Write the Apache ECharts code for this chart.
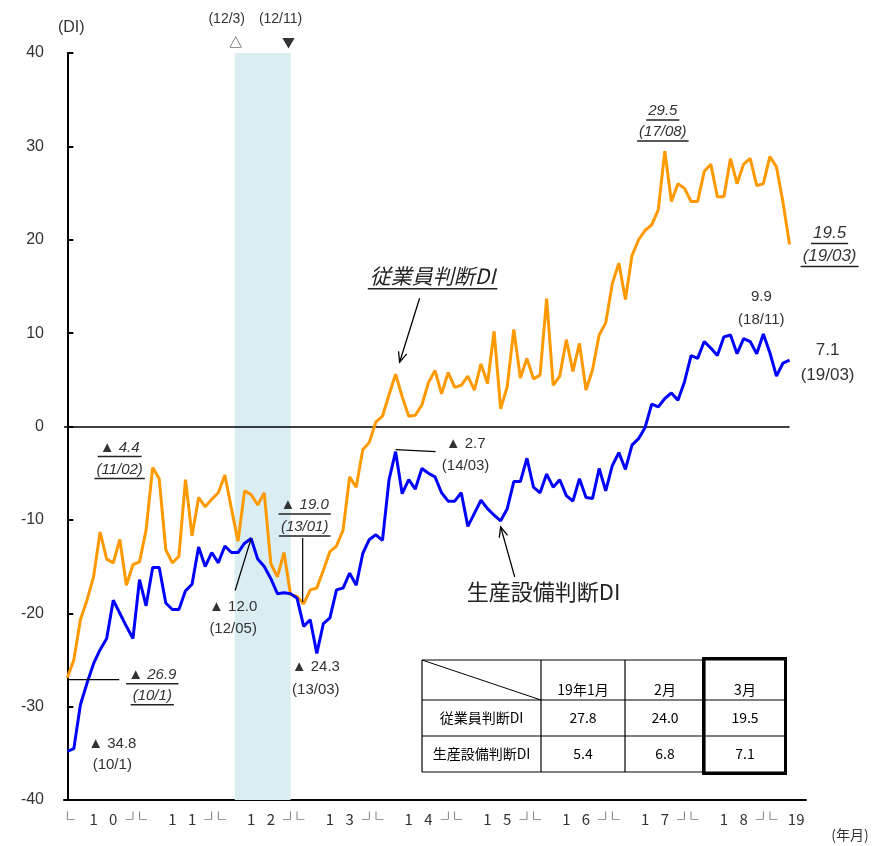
<!DOCTYPE html>
<html>
<head>
<meta charset="utf-8">
<script src="https://cdn.jsdelivr.net/npm/echarts@6/dist/echarts.min.js"></script>
<style>
html, body { margin: 0; padding: 0; background: #fff; }
#main { width: 878px; height: 846px; }
</style>
</head>
<body>
<div id="main"></div>
<script>
// 月（2010/01〜2019/05、データは2019/03まで）
const months = [];
for (let k = 0; k < 113; k++) {
    const y = 2010 + Math.floor(k / 12), m = k % 12 + 1;
    months.push(y + '/' + String(m).padStart(2, '0'));
}
const yearTicks = ['10', '11', '12', '13', '14', '15', '16', '17', '18', '19'];

// 従業員判断DI
const employ = [
    -26.9, -25.0, -20.7, -18.6, -16.1, -11.3, -14.2, -14.6, -12.1, -17.0, -14.8, -14.5,
    -11.1, -4.4, -5.6, -13.2, -14.6, -13.9, -5.7, -11.7, -7.6, -8.6, -7.8, -7.1,
    -5.2, -8.8, -12.3, -6.9, -7.3, -8.4, -7.1, -14.7, -16.1, -13.5, -18.0, -18.2,
    -19.0, -17.5, -17.3, -15.4, -13.4, -12.8, -11.1, -5.4, -6.5, -2.5, -1.7, 0.5,
    1.1, 3.4, 5.6, 3.2, 1.1, 1.2, 2.3, 4.7, 6.0, 3.5, 5.8, 4.2,
    4.4, 5.4, 3.9, 6.7, 4.6, 10.2, 1.9, 4.3, 10.4, 5.2, 7.3, 5.1,
    5.5, 13.7, 4.4, 5.4, 9.3, 5.9, 8.9, 3.9, 6.1, 9.8, 11.1, 15.3,
    17.5, 13.6, 18.3, 20.0, 21.0, 21.6, 23.2, 29.5, 24.1, 26.0, 25.5, 24.1,
    24.1, 27.3, 28.1, 24.6, 24.6, 28.7, 26.0, 28.1, 28.7, 25.8, 26.0, 28.9,
    27.8, 24.0, 19.5
];
// 生産設備判断DI
const equip = [
    -34.8, -34.5, -29.8, -27.5, -25.4, -23.9, -22.7, -18.6, -20.0, -21.4, -22.7, -16.4,
    -19.2, -15.1, -15.1, -18.9, -19.6, -19.6, -17.6, -16.9, -12.9, -15.0, -13.5, -14.6,
    -12.8, -13.5, -13.5, -12.5, -12.0, -14.2, -15.0, -16.3, -17.9, -17.8, -17.9, -18.4,
    -21.4, -20.7, -24.3, -21.1, -20.5, -17.5, -17.3, -15.7, -17.0, -13.6, -12.1, -11.6,
    -12.2, -5.7, -2.7, -7.2, -5.7, -6.7, -4.5, -5.0, -5.4, -7.1, -8.0, -8.0,
    -7.1, -10.7, -9.3, -7.9, -8.8, -9.5, -10.1, -8.8, -5.9, -5.9, -3.4, -6.5,
    -7.1, -5.1, -6.5, -5.7, -7.4, -8.0, -5.6, -7.6, -7.7, -4.5, -6.9, -4.2,
    -2.8, -4.6, -2.0, -1.3, -0.1, 2.4, 2.1, 3.0, 3.6, 2.8, 4.8, 7.6,
    7.3, 9.1, 8.4, 7.6, 9.6, 9.8, 7.8, 9.4, 9.1, 7.8, 9.9, 7.9,
    5.4, 6.8, 7.1
];
const tableCols = ['19年1月', '2月', '3月'];
const tableRows = ['従業員判断DI', '生産設備判断DI'];

// 横軸の文字（月ごと）
const axisChars = months.map(() => '');
axisChars[0] = '└';
yearTicks.forEach(function (y, k) {
    const j = k * 12;
    if (k < yearTicks.length - 1) {
        axisChars[j + 4] = y[0];
        axisChars[j + 7] = y[1];
        axisChars[j + 10] = '┘';
        axisChars[j + 11] = '└';
    } else {
        axisChars[j + 3] = y;
    }
});

const FONT = "'Liberation Sans','Noto Sans CJK JP',sans-serif";
const JP = "'Noto Sans CJK JP',sans-serif";
const TXT = '#333';

let myChart = echarts.init(document.getElementById('main'));
myChart.setOption({
    animation: false,
    grid: {left: 64, top: 53, width: 742, height: 747, containLabel: false, outerBoundsMode: 'none'},
    xAxis: [
        {type: 'value', min: -0.5, max: 112.5, show: false},
        {
            type: 'category', data: months, boundaryGap: true, position: 'bottom',
            axisLine: {lineStyle: {color: '#000', width: 2}},
            axisTick: {inside: true, length: 5, interval: 0, lineStyle: {color: '#000', width: 1}},
            axisLabel: {
                interval: 0, margin: 12, color: TXT, fontSize: 15, fontFamily: JP,
                formatter: function (v, i) { return axisChars[i]; }
            },
            splitLine: {show: false}
        }
    ],
    yAxis: {
        type: 'value', min: -40, max: 40, interval: 10,
        name: '(DI)', nameGap: 17,
        nameTextStyle: {color: TXT, fontSize: 16, fontFamily: FONT, padding: [0, 0, 0, 8]},
        axisLine: {show: true, lineStyle: {color: '#000', width: 2}},
        axisTick: {show: true, inside: true, length: 6, lineStyle: {color: '#000', width: 2}},
        axisLabel: {margin: 20, color: TXT, fontSize: 16, fontFamily: FONT},
        splitLine: {show: false}
    },
    series: [
        {
            name: '従業員判断DI', type: 'line', xAxisIndex: 0, z: 3,
            data: employ.map(function (v, i) { return [i, v]; }),
            symbol: 'none', lineStyle: {color: '#ff9900', width: 3},
            markArea: {
                silent: true, itemStyle: {color: '#daedf3'},
                data: [[{xAxis: 25.5}, {xAxis: 34}]]
            },
            markLine: {
                silent: true, symbol: 'none', z: 1, label: {show: false},
                lineStyle: {color: '#000', width: 1.5, type: 'solid'},
                data: [[{coord: [-0.5, 0]}, {coord: [110, 0]}]]
            }
        },
        {
            name: '生産設備判断DI', type: 'line', xAxisIndex: 0, z: 4,
            data: equip.map(function (v, i) { return [i, v]; }),
            symbol: 'none', lineStyle: {color: '#0000ff', width: 3}
        }
    ]
});

// 注記
const mctx = document.createElement('canvas').getContext('2d');
function measure(text, size, family, style) {
    mctx.font = (style || 'normal') + ' ' + size + 'px ' + family;
    return mctx.measureText(text).width;
}
function P(i, v) {
    return myChart.convertToPixel({xAxisIndex: 0, yAxisIndex: 0}, [i, v]);
}
function fmt(v) {
    return v < 0 ? '▲ ' + Math.abs(v).toFixed(1) : v.toFixed(1);
}
let els = [];
function label(x, y, text, o) {
    o = o || {};
    let size = o.size || 15, fam = o.family || FONT, st = o.italic ? 'italic' : 'normal';
    els.push({
        type: 'text', x: x, y: y, z: 10,
        style: {text: text, fontSize: size, fontFamily: fam, fontStyle: st, fill: o.color || TXT,
            align: o.align || 'center', verticalAlign: 'middle'}
    });
    if (o.underline) {
        let w = measure(text, size, fam, st);
        let uy = y + size * 0.6;
        els.push({type: 'line', z: 10, shape: {x1: x - w / 2 - 2, y1: uy, x2: x + w / 2 + 2, y2: uy},
            style: {stroke: '#222', lineWidth: 1.5}});
    }
}
function seg(x1, y1, x2, y2, lw) {
    els.push({type: 'line', z: 10, shape: {x1: x1, y1: y1, x2: x2, y2: y2}, style: {stroke: '#000', lineWidth: lw || 1.2}});
}
function arrow(x1, y1, x2, y2) {
    seg(x1, y1, x2, y2, 1.3);
    let a = Math.atan2(y2 - y1, x2 - x1), L = 11, s = 0.4;
    els.push({type: 'polyline', z: 10, shape: {points: [
        [x2 - L * Math.cos(a - s), y2 - L * Math.sin(a - s)], [x2, y2],
        [x2 - L * Math.cos(a + s), y2 - L * Math.sin(a + s)]]},
        style: {stroke: '#000', lineWidth: 1.3, fill: null}});
}
function note(i, v, dx, dy, gap, date, o) {
    let p = P(i, v);
    label(p[0] + dx, p[1] + dy, fmt(v), o);
    label(p[0] + dx, p[1] + dy + gap, date, o);
    return p;
}
let ital = {italic: true, underline: true};

let p;
note(13, employ[13], -33, -20, 22, '(11/02)', ital);
p = note(0, employ[0], 85, -3, 21, '(10/1)', ital);
seg(p[0], p[1] + 2, p[0] + 52, p[1] + 2);
note(0, equip[0], 45, -8, 21, '(10/1)');
p = note(28, equip[28], -18, 68, 22, '(12/05)');
seg(p[0], p[1], p[0] - 16, p[1] + 52);
p = note(36, employ[36], 1, -99, 22, '(13/01)', ital);
seg(p[0] - 1, p[1] - 2, p[0] - 1, p[1] - 66);
note(38, equip[38], -1, 13, 23, '(13/03)');
p = note(50, equip[50], 70, -8, 22, '(14/03)');
seg(p[0], p[1] - 2, p[0] + 40, p[1]);
note(91, employ[91], -2, -40, 21, '(17/08)', ital);
note(110, employ[110], 40, -11, 23, '(19/03)', {italic: true, underline: true, size: 17});
note(106, equip[106], -2, -37, 23, '(18/11)');
note(110, equip[110], 38, -10, 25, '(19/03)', {size: 17});

// 系列名
p = P(50, employ[50]);
label(p[0] + 37, p[1] - 98, '従業員判断DI', {italic: true, underline: true, size: 21, family: JP, color: '#222'});
arrow(p[0] + 24, p[1] - 76, p[0] + 4, p[1] - 12);
p = P(66, equip[66]);
label(p[0] + 43, p[1] + 71, '生産設備判断DI', {size: 22, family: JP, color: '#222'});
arrow(p[0] + 14, p[1] + 56, p[0], p[1] + 6);

// 景気の山・谷
p = P(25.5, 40);
label(p[0] + 1, p[1] - 11, '△', {size: 13, family: JP});
label(p[0] - 8, p[1] - 34, '(12/3)', {size: 14});
p = P(34, 40);
label(p[0] - 2, p[1] - 11, '▼', {size: 13, family: JP});
label(p[0] - 10, p[1] - 34, '(12/11)', {size: 14});

label(850, 835, '(年月)', {size: 14, family: JP});

// 表
const tx = [422, 541, 625, 705, 785], ty = [660, 700, 736, 772];
ty.forEach(function (y) { seg(tx[0], y, tx[4], y, 1.2); });
tx.forEach(function (x) { seg(x, ty[0], x, ty[3], 1.2); });
seg(tx[0], ty[0], tx[1], ty[1], 1);
els.push({type: 'rect', z: 11, shape: {x: 703.5, y: 658.5, width: 82, height: 115},
    style: {stroke: '#000', lineWidth: 3, fill: null}});
const last3 = [employ.slice(-3), equip.slice(-3)];
tableCols.forEach(function (c, k) {
    label((tx[k + 1] + tx[k + 2]) / 2, 690, c, {size: 14, family: JP, color: '#000'});
});
tableRows.forEach(function (r, k) {
    let cy = (ty[k + 1] + ty[k + 2]) / 2;
    label((tx[0] + tx[1]) / 2, cy, r, {size: 14, family: JP, color: '#000'});
    last3[k].forEach(function (v, m) {
        label((tx[m + 1] + tx[m + 2]) / 2, cy, v.toFixed(1), {size: 14, family: JP, color: '#000'});
    });
});

myChart.setOption({graphic: els});
</script>
</body>
</html>
